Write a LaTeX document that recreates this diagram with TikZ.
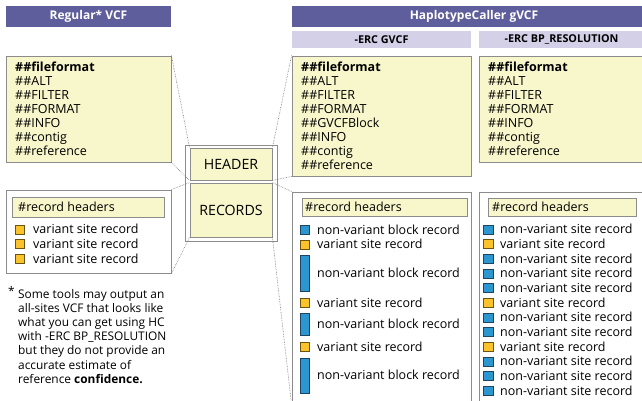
\documentclass[tikz,border=0pt]{standalone}
\usepackage{fontspec}
\setmainfont{Open Sans}
\begin{document}
\begin{tikzpicture}[x=1pt,y=-1pt,
  box/.style={draw=black!45,line width=0.9pt,inner sep=0pt,rectangle},
  ybox/.style={box,fill=yfill},
  wbox/.style={box,fill=white},
  titlebar/.style={fill=tbar,inner sep=0pt,text=white,font=\fontsize{12}{14}\selectfont\bfseries},
  subbar/.style={fill=sbar,inner sep=0pt,text=black,font=\fontsize{10.8}{12}\selectfont\bfseries},
  txt/.style={anchor=base west,inner sep=0pt,yshift=-4.4pt,font=\fontsize{12.5}{14}\selectfont},
  btxt/.style={txt,font=\fontsize{12.5}{14}\selectfont\bfseries},
  ftxt/.style={anchor=base west,inner sep=0pt,yshift=-3.9pt,font=\fontsize{11.9}{13}\selectfont},
  bsq/.style={draw=bedge,fill=bluec,line width=0.6pt,inner sep=0pt,minimum width=9.5,minimum height=9},
  ysq/.style={draw=yedge,fill=yelc,line width=0.6pt,inner sep=0pt,minimum width=9.5,minimum height=9},
  conn/.style={draw=black!55,densely dotted,line width=0.6pt}
]
\definecolor{yfill}{HTML}{F8F6CB}
\definecolor{tbar}{HTML}{5F5E9C}
\definecolor{sbar}{HTML}{D3D0E8}
\definecolor{bluec}{HTML}{2C96D0}
\definecolor{bedge}{HTML}{1D4460}
\definecolor{yelc}{HTML}{FBC32B}
\definecolor{yedge}{HTML}{6A5510}
\useasboundingbox (0,0) rectangle (642,401);
\clip (0,0) rectangle (642,401);

% title bars
\node[titlebar,minimum width=165,minimum height=21] (t1) at (88.5,16.5) {Regular* VCF};
\node[titlebar,minimum width=364,minimum height=21] (t2) at (474,16.5) {HaplotypeCaller gVCF};
\node[subbar,minimum width=179,minimum height=17] (s1) at (381.5,39.5) {-ERC GVCF};
\node[subbar,minimum width=165,minimum height=17] (s2) at (561.5,39.5) {-ERC BP\_RESOLUTION};

% header boxes
\node[ybox,minimum width=165,minimum height=106] (lhdr) at (88.5,109) {};
\node[ybox,minimum width=179,minimum height=120] (ghdr) at (381.5,116) {};
\node[ybox,minimum width=165,minimum height=106] (bhdr) at (561.5,109) {};

\node[btxt] (lh1) at (15,67) {\#\#fileformat};
\foreach \t [count=\i from 2] in {ALT,FILTER,FORMAT,INFO,contig,reference}
  \node[txt] (lh\i) at (15,53+14*\i) {\#\#\t};
\node[btxt] (gh1) at (301,67) {\#\#fileformat};
\foreach \t [count=\i from 2] in {ALT,FILTER,FORMAT,GVCFBlock,INFO,contig,reference}
  \node[txt] (gh\i) at (301,53+14*\i) {\#\#\t};
\node[btxt] (bh1) at (488,67) {\#\#fileformat};
\foreach \t [count=\i from 2] in {ALT,FILTER,FORMAT,INFO,contig,reference}
  \node[txt] (bh\i) at (488,53+14*\i) {\#\#\t};

% centre
\node[wbox,minimum width=92,minimum height=96] (outer) at (231,193) {};
\node[ybox,minimum width=82,minimum height=32,font=\fontsize{14.2}{16}\selectfont] (hbox) at (231,164) {HEADER};
\node[ybox,minimum width=82,minimum height=54,font=\fontsize{14.2}{16}\selectfont] (rbox) at (231,210) {RECORDS};

% record boxes
\node[wbox,minimum width=165,minimum height=83] (lrec) at (88.5,231.5) {};
\node[ybox,minimum width=152,minimum height=20] (lrech) at (88,207) {};
\node[txt] (lrect) at (18,207) {\#record headers};
\foreach \y [count=\i] in {229.3,243.7,258.7}{
  \node[ysq] (lsq\i) at (20,\y) {};
  \node[txt] (lst\i) at (33,\y) {variant site record};
}

\node[wbox,minimum width=179,minimum height=212] (grec) at (381.5,298) {};
\node[ybox,minimum width=165,minimum height=18] (grech) at (384.5,207) {};
\node[txt] (grect) at (305,207) {\#record headers};
\node[bsq] (gq1) at (305,230) {};
\node[txt] (gt1) at (317,230) {non-variant block record};
\node[ysq] (gq2) at (305,244.5) {};
\node[txt] (gt2) at (317,244.5) {variant site record};
\node[bsq,minimum height=36] (gq3) at (305,273) {};
\node[txt] (gt3) at (317,273) {non-variant block record};
\node[ysq] (gq4) at (305,302.7) {};
\node[txt] (gt4) at (317,302.7) {variant site record};
\node[bsq,minimum height=22] (gq5) at (305,324) {};
\node[txt] (gt5) at (317,324) {non-variant block record};
\node[ysq] (gq6) at (305,346.7) {};
\node[txt] (gt6) at (317,346.7) {variant site record};
\node[bsq,minimum height=35] (gq7) at (305,375.5) {};
\node[txt] (gt7) at (317,375.5) {non-variant block record};

\node[wbox,minimum width=165,minimum height=212] (brec) at (561.5,298) {};
\node[ybox,minimum width=148,minimum height=18] (brech) at (562,207) {};
\node[txt] (brect) at (492,207) {\#record headers};
\foreach \k [count=\i] in {b,y,b,b,b,y,b,b,y,b,b,b}{
  \pgfmathsetmacro{\yy}{229.3+14.67*(\i-1)}
  \if\k b
    \node[bsq] (bq\i) at (488.5,\yy) {};
    \node[txt] (bt\i) at (500,\yy) {non-variant site record};
  \else
    \node[ysq] (bq\i) at (488.5,\yy) {};
    \node[txt] (bt\i) at (500,\yy) {variant site record};
  \fi
}

% footnote
\node[ftxt] (fs) at (8,292) {*};
\foreach \t [count=\i] in {Some tools may output an,all-sites VCF that looks like,what you can get using HC,with -ERC BP\_RESOLUTION,but they do not provide an,accurate estimate of}
  \node[ftxt] (f\i) at (18,280+14.2*\i) {\t};
\node[ftxt] (f7) at (18,379.4) {reference \textbf{confidence.}};

% connectors
\draw[conn] (lhdr.north east) -- (hbox.north west);
\draw[conn] (lhdr.south east) -- (hbox.south west);
\draw[conn] (ghdr.north west) -- (hbox.north east);
\draw[conn] (ghdr.south west) -- (hbox.south east);
\draw[conn] (lrec.north east) -- (rbox.north west);
\draw[conn] (lrec.south east) -- (rbox.south west);
\draw[conn] (grec.north west) -- (rbox.north east);
\draw[conn] (rbox.south east) -- (grec.south west);
\end{tikzpicture}
\end{document}
